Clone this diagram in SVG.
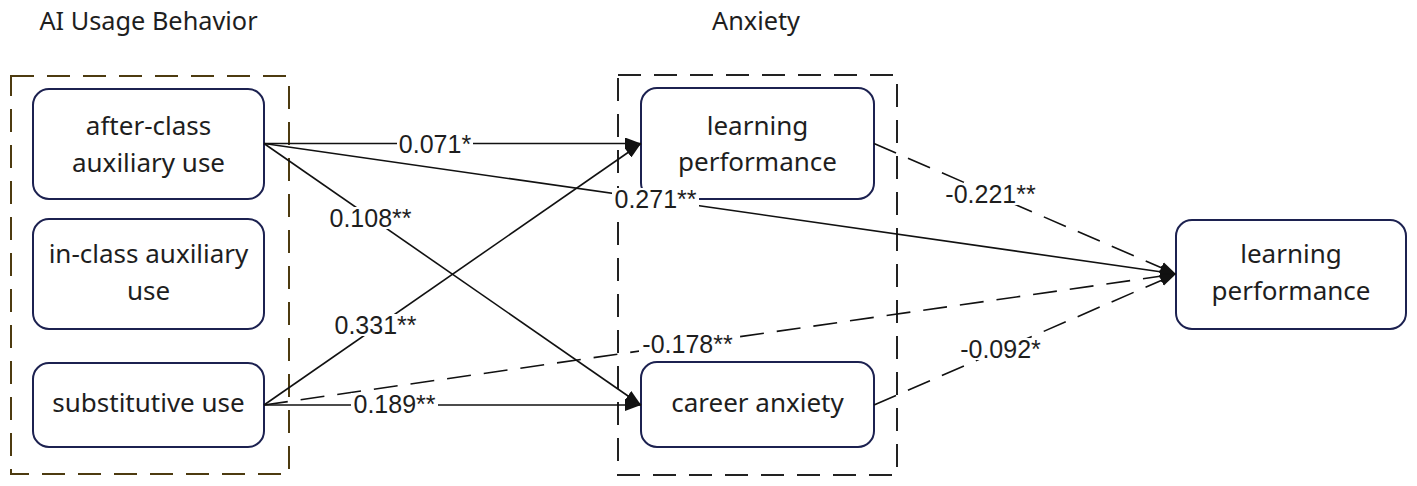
<svg xmlns="http://www.w3.org/2000/svg" width="1417" height="486" viewBox="0 0 1417 486">
<style>
.node{fill:#fff;stroke:#1c2150;stroke-width:2}
.nt{font-family:"Noto Sans","Open Sans",sans-serif;font-size:26px;fill:#1e1e1e;text-anchor:middle}
.title{font-family:"Noto Sans","Open Sans",sans-serif;font-size:25.3px;fill:#1e1e1e;text-anchor:middle}
.grp{fill:none;stroke-width:2;stroke-dasharray:23 13}
.c{fill:none;stroke:#111;stroke-width:1.6}
.d{stroke-dasharray:24 13}
.lbg{fill:#fff}
.lt{font-family:"Liberation Sans",Arial,sans-serif;font-size:25px;fill:#1e1e1e;text-anchor:middle}
</style>
<defs>
<marker id="arr" viewBox="0 0 16 12" refX="16" refY="6" markerWidth="16" markerHeight="12" markerUnits="userSpaceOnUse" orient="auto">
<path d="M0,0 L16,6 L0,12 z" fill="#111"/>
</marker>
</defs>
<rect width="1417" height="486" fill="#fff"/>
<g id="groups">
<rect class="grp" x="11" y="76" width="278" height="398" stroke="#4d3b10"/>
<rect class="grp" x="618" y="75" width="279" height="400" stroke="#222"/>
<text class="title" x="148.5" y="30">AI Usage Behavior</text>
<text class="title" x="756" y="30">Anxiety</text>
</g>
<g id="after-class">
<rect class="node" x="33" y="89" width="231" height="110" rx="16"/>
<text class="nt" x="148.5" y="135">after-class</text>
<text class="nt" x="148.5" y="172">auxiliary use</text>
</g>
<g id="in-class">
<rect class="node" x="33" y="219" width="231" height="110" rx="16"/>
<text class="nt" x="148.5" y="263">in-class auxiliary</text>
<text class="nt" x="148.5" y="300">use</text>
</g>
<g id="substitutive">
<rect class="node" x="33" y="363" width="231" height="84" rx="16"/>
<text class="nt" x="148.5" y="412">substitutive use</text>
</g>
<g id="learning-anxiety">
<rect class="node" x="641" y="88" width="233" height="111" rx="16"/>
<text class="nt" x="757.5" y="135">learning</text>
<text class="nt" x="757.5" y="171">performance</text>
</g>
<g id="career-anxiety">
<rect class="node" x="641" y="362" width="233" height="85" rx="16"/>
<text class="nt" x="757.5" y="412">career anxiety</text>
</g>
<g id="learning-performance">
<rect class="node" x="1176" y="220" width="230" height="109" rx="16"/>
<text class="nt" x="1291" y="263">learning</text>
<text class="nt" x="1291" y="300">performance</text>
</g>
<g id="connectors">
<line class="c" x1="264" y1="143.5" x2="641" y2="143.5" marker-end="url(#arr)"/>
<line class="c" x1="264" y1="143.5" x2="1176" y2="274" marker-end="url(#arr)"/>
<line class="c" x1="264" y1="143.5" x2="641" y2="405" marker-end="url(#arr)"/>
<line class="c" x1="264" y1="405" x2="641" y2="143.5" marker-end="url(#arr)"/>
<line class="c" x1="264" y1="405" x2="641" y2="405" marker-end="url(#arr)"/>
<line class="c d" x1="264" y1="405" x2="1176" y2="274" marker-end="url(#arr)"/>
<line class="c d" x1="874" y1="143.5" x2="1176" y2="274" marker-end="url(#arr)"/>
<line class="c d" x1="874" y1="405" x2="1176" y2="274" marker-end="url(#arr)"/>
<rect class="lbg" x="397" y="133" width="76" height="22"/>
<text class="lt" x="435" y="153">0.071*</text>
<rect class="lbg" x="612" y="188" width="87" height="22"/>
<text class="lt" x="655.5" y="208">0.271**</text>
<rect class="lbg" x="327" y="207" width="87" height="22"/>
<text class="lt" x="370.5" y="227">0.108**</text>
<rect class="lbg" x="332" y="314" width="87" height="22"/>
<text class="lt" x="375.5" y="334">0.331**</text>
<rect class="lbg" x="351" y="393" width="87" height="22"/>
<text class="lt" x="394.5" y="413">0.189**</text>
<rect class="lbg" x="639" y="333" width="97" height="22"/>
<text class="lt" x="687.5" y="353">-0.178**</text>
<rect class="lbg" x="942" y="183" width="97" height="22"/>
<text class="lt" x="990.5" y="203">-0.221**</text>
<rect class="lbg" x="957" y="338" width="87" height="22"/>
<text class="lt" x="1000.5" y="358">-0.092*</text>
</g>
</svg>
